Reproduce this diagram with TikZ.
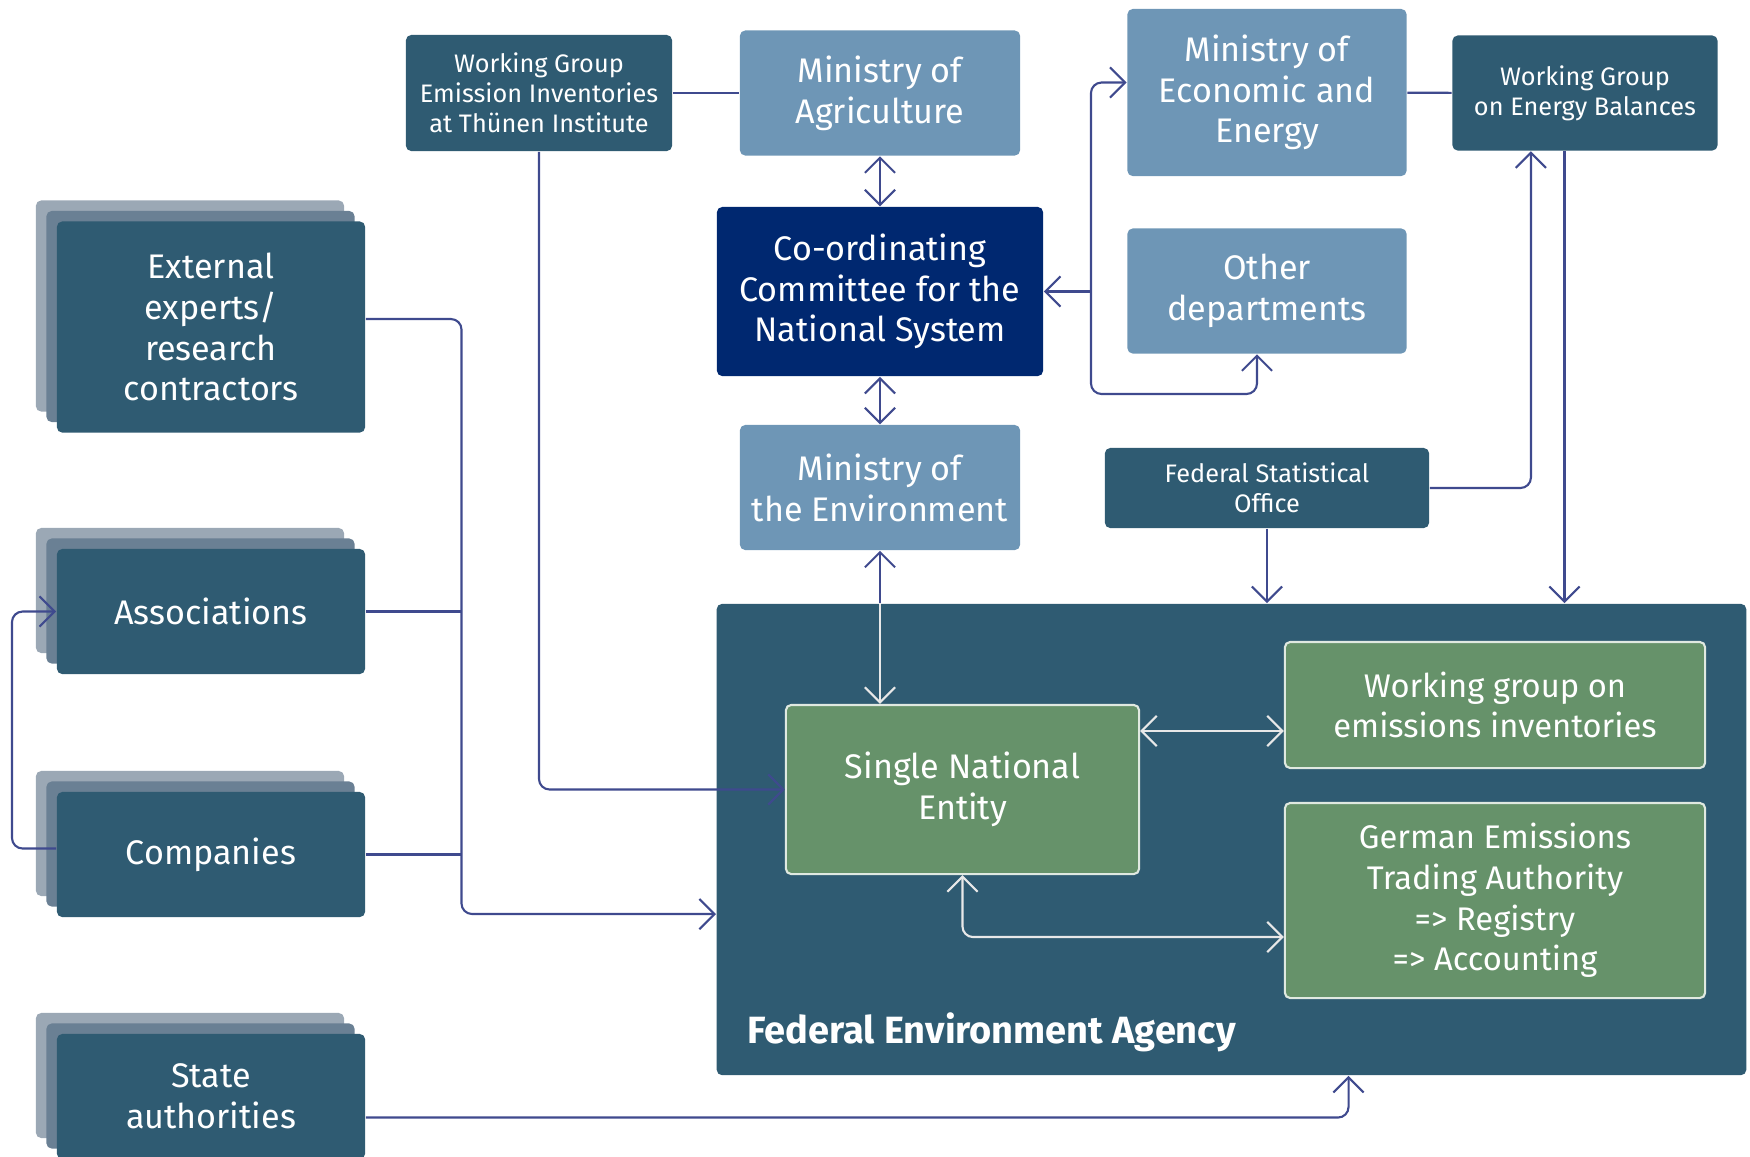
\documentclass[tikz,border=0pt]{standalone}
\usepackage{fontspec}
\setmainfont{Fira Sans}
\usetikzlibrary{arrows.meta,shadows}

\definecolor{fedteal}{HTML}{2F5B72}
\definecolor{minblue}{HTML}{6E96B6}
\definecolor{comnavy}{HTML}{002870}
\definecolor{entgreen}{HTML}{66926A}
\definecolor{stackmid}{HTML}{6A8094}
\definecolor{stackback}{HTML}{9BA8B5}
\definecolor{linkblue}{HTML}{3F4A8E}

\begin{document}
\begin{tikzpicture}[x=0.01cm,y=-0.01cm]

	\tikzset{box/.style = {shape=rectangle,rounded corners=1.5pt,inner sep=0pt,align=center,text=white,font=\fontsize{9.7}{11.6}\selectfont}}
	\tikzset{team/.style = {box,fill=fedteal,font=\fontsize{7.2}{8.6}\selectfont}}
	\tikzset{ministry/.style = {box,fill=minblue}}
	\tikzset{unit/.style = {box,fill=entgreen,draw=white!80!entgreen,line width=0.6pt}}
	\tikzset{stack/.style = {box,fill=fedteal,minimum width=3.08cm,
		general shadow={fill=stackback,shadow xshift=-2.1mm,shadow yshift=2.1mm},
		general shadow={fill=stackmid,shadow xshift=-1.05mm,shadow yshift=1.05mm}}}
	\tikzset{link/.style = {draw=linkblue,line width=0.6pt}}
	\tikzset{flow/.style = {link,->,> = {Straight Barb[length=4.3pt,width=8.6pt]}}}
	\tikzset{inner flow/.style = {flow,draw=white!91!black}}

	\useasboundingbox (0,0) rectangle (1750,1156);

	\node[box,fill=fedteal,minimum width=10.29cm,minimum height=4.71cm] (fea) at (1231.5,839.5) {};
	\node[text=white,font=\bfseries\fontsize{10.8}{12}\selectfont,anchor=base west,inner sep=0pt] (fealabel) at (747,1043) {Federal Environment Agency};
	\node[unit,minimum width=3.53cm,minimum height=1.69cm] (sne) at (962.5,789.5) {Single National\\Entity};
	\node[unit,minimum width=4.2cm,minimum height=1.26cm,font=\fontsize{9.3}{11.6}\selectfont] (wgei) at (1495,705) {Working group on\\emissions inventories};
	\node[unit,minimum width=4.2cm,minimum height=1.95cm,font=\fontsize{9.3}{11.6}\selectfont] (dehst) at (1495,900.5) {German Emissions\\Trading Authority\\=> Registry\\=> Accounting};

	\node[team,minimum width=2.66cm,minimum height=1.16cm] (wgt) at (539,93) {Working Group\\Emission Inventories\\at Thünen Institute};
	\node[ministry,minimum width=2.8cm,minimum height=1.25cm] (moa) at (880,93) {Ministry of\\Agriculture};
	\node[box,fill=comnavy,minimum width=3.26cm,minimum height=1.69cm] (cc) at (880,291.5) {Co-ordinating\\Committee for the\\National System};
	\node[ministry,minimum width=2.8cm,minimum height=1.25cm] (moe) at (880,487.5) {Ministry of\\the Environment};
	\node[ministry,minimum width=2.79cm,minimum height=1.67cm] (moec) at (1267,92.5) {Ministry of\\Economic and\\Energy};
	\node[ministry,minimum width=2.79cm,minimum height=1.25cm] (od) at (1267,291) {Other\\departments};
	\node[team,minimum width=2.65cm,minimum height=1.15cm] (wgeb) at (1585,93) {Working Group\\on Energy Balances};
	\node[team,minimum width=3.24cm,minimum height=0.8cm] (fso) at (1267,488) {Federal Statistical\\Office};

	\node[stack,minimum height=2.11cm] (ext) at (211,327) {External\\experts/\\research\\contractors};
	\node[stack,minimum height=1.25cm] (assoc) at (211,611.5) {Associations};
	\node[stack,minimum height=1.25cm] (comp) at (211,854.5) {Companies};
	\node[stack,minimum height=1.25cm] (state) at (211,1096.5) {State\\authorities};

	\coordinate (bus) at (1091,291.5);
	\coordinate (busend) at (1091,394);
	\coordinate (jn) at (461.5,914);
	\coordinate (loop) at (12,611.5);
	\coordinate (ecin) at ([yshift=0.1cm]moec.west);
	\coordinate (odin) at ([xshift=-0.1cm]od.south);
	\coordinate (extout) at ([yshift=0.08cm]ext.east);
	\coordinate (compout) at ([yshift=0.06cm]comp.west);
	\coordinate (ebup) at ([xshift=-0.54cm]wgeb.south);
	\coordinate (ebdown) at ([xshift=-0.205cm]wgeb.south);
	\coordinate (stateout) at ([yshift=-0.21cm]state.east);
	\coordinate (statein) at ([xshift=1.17cm]fea.south);
	\coordinate (wgeiin) at ([yshift=-0.26cm]wgei.west);
	\coordinate (dehstin) at ([yshift=-0.365cm]dehst.west);

	\draw[link] (wgt) -- (moa);
	\draw[flow,<->] (moa) -- (cc);
	\draw[flow,<->] (cc) -- (moe);
	\draw[flow] (moe.south |- fea.north) -- (moe.south);
	\draw[inner flow] (moe.south |- fea.north) -- (moe.south |- sne.north);
	\draw[flow,<->,rounded corners=3pt] (ecin) -| (busend) -| (odin);
	\draw[flow] (bus) -- (cc);
	\draw[link] (moec) -- (wgeb);
	\draw[flow,rounded corners=3pt] (fso) -| (ebup);
	\draw[flow] (ebdown) -- (ebdown |- fea.north);
	\draw[flow] (fso) -- (fso |- fea.north);
	\draw[flow,rounded corners=3pt] (extout) -| (jn) -- (jn -| fea.west);
	\draw[link] (assoc) -- (assoc -| jn);
	\draw[link] (comp) -- (comp -| jn);
	\draw[flow,rounded corners=3pt] (compout) -| (loop) -- (assoc.west);
	\draw[flow,rounded corners=3pt] (wgt) |- (sne);
	\draw[flow,rounded corners=3pt] (stateout) -| (statein);
	\draw[inner flow,<->] (wgeiin -| sne.east) -- (wgeiin);
	\draw[inner flow,<->,rounded corners=3pt] (sne) |- (dehstin);
\end{tikzpicture}
\end{document}
